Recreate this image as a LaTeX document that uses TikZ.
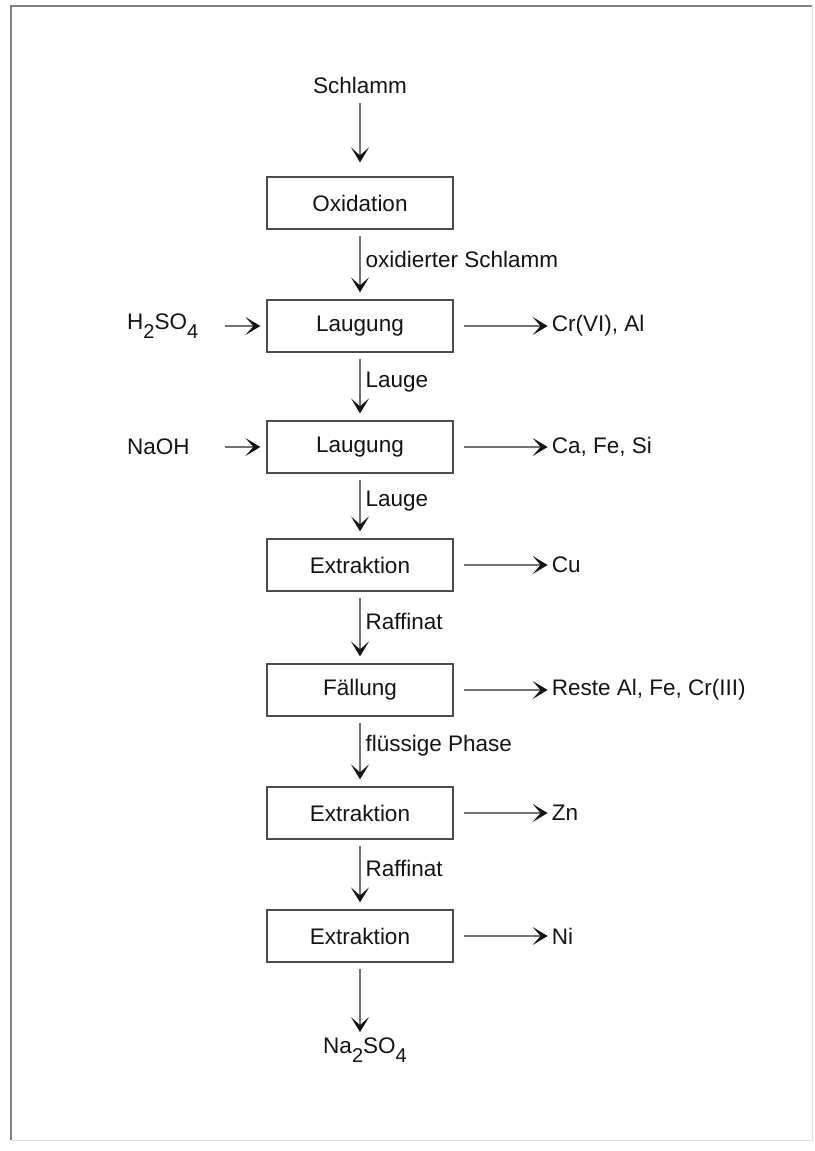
\documentclass[tikz,border=0pt]{standalone}
\usepackage{fontspec}
\setmainfont{Liberation Sans}
\usetikzlibrary{arrows.meta,calc}
% lowered, slightly reduced digits for chemical formulas
\newcommand\chemidx[1]{\raisebox{-9pt}{\fontsize{20}{20}\selectfont #1}}
\begin{document}
\begin{tikzpicture}[x=1pt,y=-1pt,
  every node/.style={font=\fontsize{22.5}{27}\selectfont, text=black!92},
  stage/.style={draw=black!70, line width=1.2pt, minimum width=186pt,
                minimum height=52pt, inner sep=0pt},
  flow/.style={draw=black!55, line width=1.2pt,
               -{Stealth[length=15pt,width=18pt,inset=8pt,black!92]}},
  lbl/.style={anchor=west, inner sep=0pt, xshift=5pt},
  feed/.style={anchor=west, inner sep=0pt},
  product/.style={anchor=west, inner sep=0pt},
]
\useasboundingbox (0,0) rectangle (814,1151);

% page frame
\draw[black!50, line width=1.5pt] (11,1140) -- (11,6) -- (812,6);
\draw[black!12, line width=1pt] (812,6) -- (812,1140) -- (11,1140);

% process chain
\node (src) at (360,85) {Schlamm};
\node[stage] (ox) at (360,203) {Oxidation};
\node[stage] (l1) at (360,326) {Laugung};
\node[stage] (l2) at (360,447) {Laugung};
\node[stage] (e1) at (360,565) {Extraktion};
\node[stage] (f)  at (360,690) {F\"allung};
\node[stage] (e2) at (360,813) {Extraktion};
\node[stage] (e3) at (360,936) {Extraktion};
\node (na) at (365,1050) {Na\chemidx{2}SO\chemidx{4}};

% feeds
\node[feed] (h2) at (127,326) {H\chemidx{2}SO\chemidx{4}};
\node[feed] (naoh) at (127,447) {NaOH};

% separated products
\node[product] (p1) at ($(l1.east)+(98,0)$) {Cr(VI), Al};
\node[product] (p2) at ($(l2.east)+(98,0)$) {Ca, Fe, Si};
\node[product] (p3) at ($(e1.east)+(98,0)$) {Cu};
\node[product] (p4) at ($(f.east)+(98,0)$) {Reste Al, Fe, Cr(III)};
\node[product] (p5) at ($(e2.east)+(98,0)$) {Zn};
\node[product] (p6) at ($(e3.east)+(98,0)$) {Ni};

% main flow
\draw[flow] ($(src.south)+(0,6)$) -- ($(ox.north)+(0,-14)$);
\draw[flow] ($(ox.south)+(0,6)$) -- ($(l1.north)+(0,-7)$)
  node[lbl, pos=0.42] {oxidierter Schlamm};
\draw[flow] ($(l1.south)+(0,6)$) -- ($(l2.north)+(0,-7)$)
  node[lbl, pos=0.42] {Lauge};
\draw[flow] ($(l2.south)+(0,6)$) -- ($(e1.north)+(0,-7)$)
  node[lbl, pos=0.42] {Lauge};
\draw[flow] ($(e1.south)+(0,6)$) -- ($(f.north)+(0,-7)$)
  node[lbl, pos=0.4] {Raffinat};
\draw[flow] ($(f.south)+(0,6)$) -- ($(e2.north)+(0,-7)$)
  node[lbl, pos=0.4] {fl\"ussige Phase};
\draw[flow] ($(e2.south)+(0,6)$) -- ($(e3.north)+(0,-7)$)
  node[lbl, pos=0.4] {Raffinat};
\draw[flow] ($(e3.south)+(0,6)$) -- ($(e3.south |- na.north)+(0,-2)$);

% feed arrows
\draw[flow] ($(l1.west)+(-41,0)$) -- ($(l1.west)+(-6,0)$);
\draw[flow] ($(l2.west)+(-41,0)$) -- ($(l2.west)+(-6,0)$);

% product arrows
\foreach \s/\p in {l1/p1, l2/p2, e1/p3, f/p4, e2/p5, e3/p6}
  \draw[flow, shorten >=4pt] ($(\s.east)+(10,0)$) -- (\p.west);
\end{tikzpicture}
\end{document}
